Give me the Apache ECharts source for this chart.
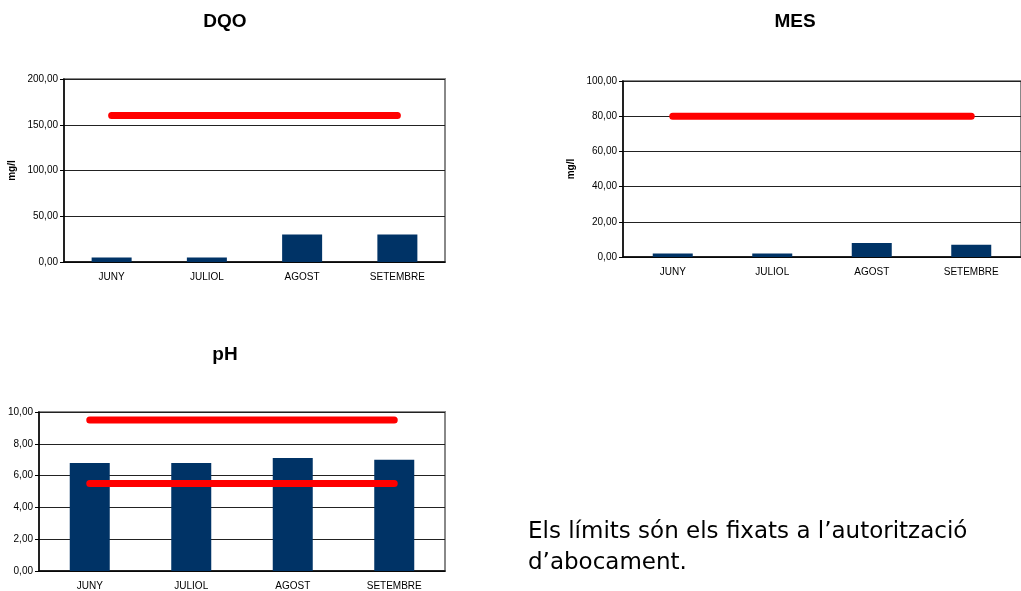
<!DOCTYPE html>
<html>
<head>
<meta charset="utf-8">
<script src="https://cdn.jsdelivr.net/npm/echarts@6/dist/echarts.min.js"></script>
<style>
html,body{margin:0;padding:0;background:#fff;}
#chart{width:1021px;height:591px;}
</style>
</head>
<body>
<div id="chart"></div>
<script>
const months = ['JUNY', 'JULIOL', 'AGOST', 'SETEMBRE'];
const dqoValues = [5, 5, 30, 30];
const dqoLimit = [160, 160, 160, 160];
const mesValues = [2, 2, 8, 7];
const mesLimit = [80, 80, 80, 80];
const phValues = [6.8, 6.8, 7.1, 7.0];
const phLimitMax = [9.5, 9.5, 9.5, 9.5];
const phLimitMin = [5.5, 5.5, 5.5, 5.5];
const titles = ['DQO', 'MES', 'pH'];
const unit = 'mg/l';
const note = ['Els límits són els fixats a l\u2019autorització', 'd\u2019abocament.'];

const BAR = '#003366';
const RED = '#ff0000';
const fmt = v => v.toFixed(2).replace('.', ',');

const grids = [
  {left: 64, top: 79, width: 381, height: 183},
  {left: 623, top: 81, width: 408, height: 176},
  {left: 39, top: 412, width: 406, height: 161}
].map(g => Object.assign({show: true, borderColor: '#888', borderWidth: 2, backgroundColor: 'transparent'}, g));

function xAxis(i) {
  return {
    type: 'category', gridIndex: i, data: months,
    axisLine: {lineStyle: {color: '#000', width: 1.5}},
    axisTick: {length: 4, lineStyle: {color: '#000'}},
    axisLabel: {fontFamily: 'Liberation Sans', fontSize: 10, color: '#000', margin: 10}
  };
}
function yAxis(i, max, interval, name) {
  return {
    type: 'value', gridIndex: i, min: 0, max: max, interval: interval,
    name: name || '', nameLocation: 'middle', nameRotate: 90, nameGap: 47,
    nameTextStyle: {fontFamily: 'Liberation Sans', fontWeight: 'bold', fontSize: 10, color: '#000'},
    axisLine: {show: true, lineStyle: {color: '#000', width: 1.5}},
    axisTick: {show: true, length: 4, lineStyle: {color: '#000'}},
    axisLabel: {fontFamily: 'Liberation Sans', fontSize: 10, color: '#000', margin: 6, formatter: fmt},
    splitLine: {lineStyle: {color: '#222', width: 1}}
  };
}
function bars(i, data) {
  return {type: 'bar', xAxisIndex: i, yAxisIndex: i, data: data, barWidth: 40,
    itemStyle: {color: BAR}, animation: false, z: 2};
}
function limit(i, data) {
  return {type: 'line', xAxisIndex: i, yAxisIndex: i, data: data, symbol: 'none',
    lineStyle: {color: RED, width: 7, cap: 'round'}, animation: false, z: 3};
}

const titleFont = 'bold 19px "Liberation Sans"';
const noteFont = '23px "DejaVu Sans"';

const option = {
  animation: false,
  grid: grids,
  xAxis: [xAxis(0), xAxis(1), xAxis(2)],
  yAxis: [yAxis(0, 200, 50, unit), yAxis(1, 100, 20, unit), yAxis(2, 10, 2, '')],
  series: [
    bars(0, dqoValues), limit(0, dqoLimit),
    bars(1, mesValues), limit(1, mesLimit),
    bars(2, phValues), limit(2, phLimitMax), limit(2, phLimitMin)
  ],
  graphic: [
    {type: 'text', x: 225, y: 22, style: {text: titles[0], fill: '#000', font: titleFont, textAlign: 'center', textVerticalAlign: 'middle'}},
    {type: 'text', x: 795, y: 22, style: {text: titles[1], fill: '#000', font: titleFont, textAlign: 'center', textVerticalAlign: 'middle'}},
    {type: 'text', x: 225, y: 355, style: {text: titles[2], fill: '#000', font: titleFont, textAlign: 'center', textVerticalAlign: 'middle'}},
    {type: 'text', x: 528, y: 532, style: {text: note[0], fill: '#000', font: noteFont, textAlign: 'left', textVerticalAlign: 'middle'}},
    {type: 'text', x: 528, y: 563, style: {text: note[1], fill: '#000', font: noteFont, textAlign: 'left', textVerticalAlign: 'middle'}}
  ]
};

const chart = echarts.init(document.getElementById('chart'), null, {renderer: 'canvas'});
chart.setOption(option);
</script>
</body>
</html>
